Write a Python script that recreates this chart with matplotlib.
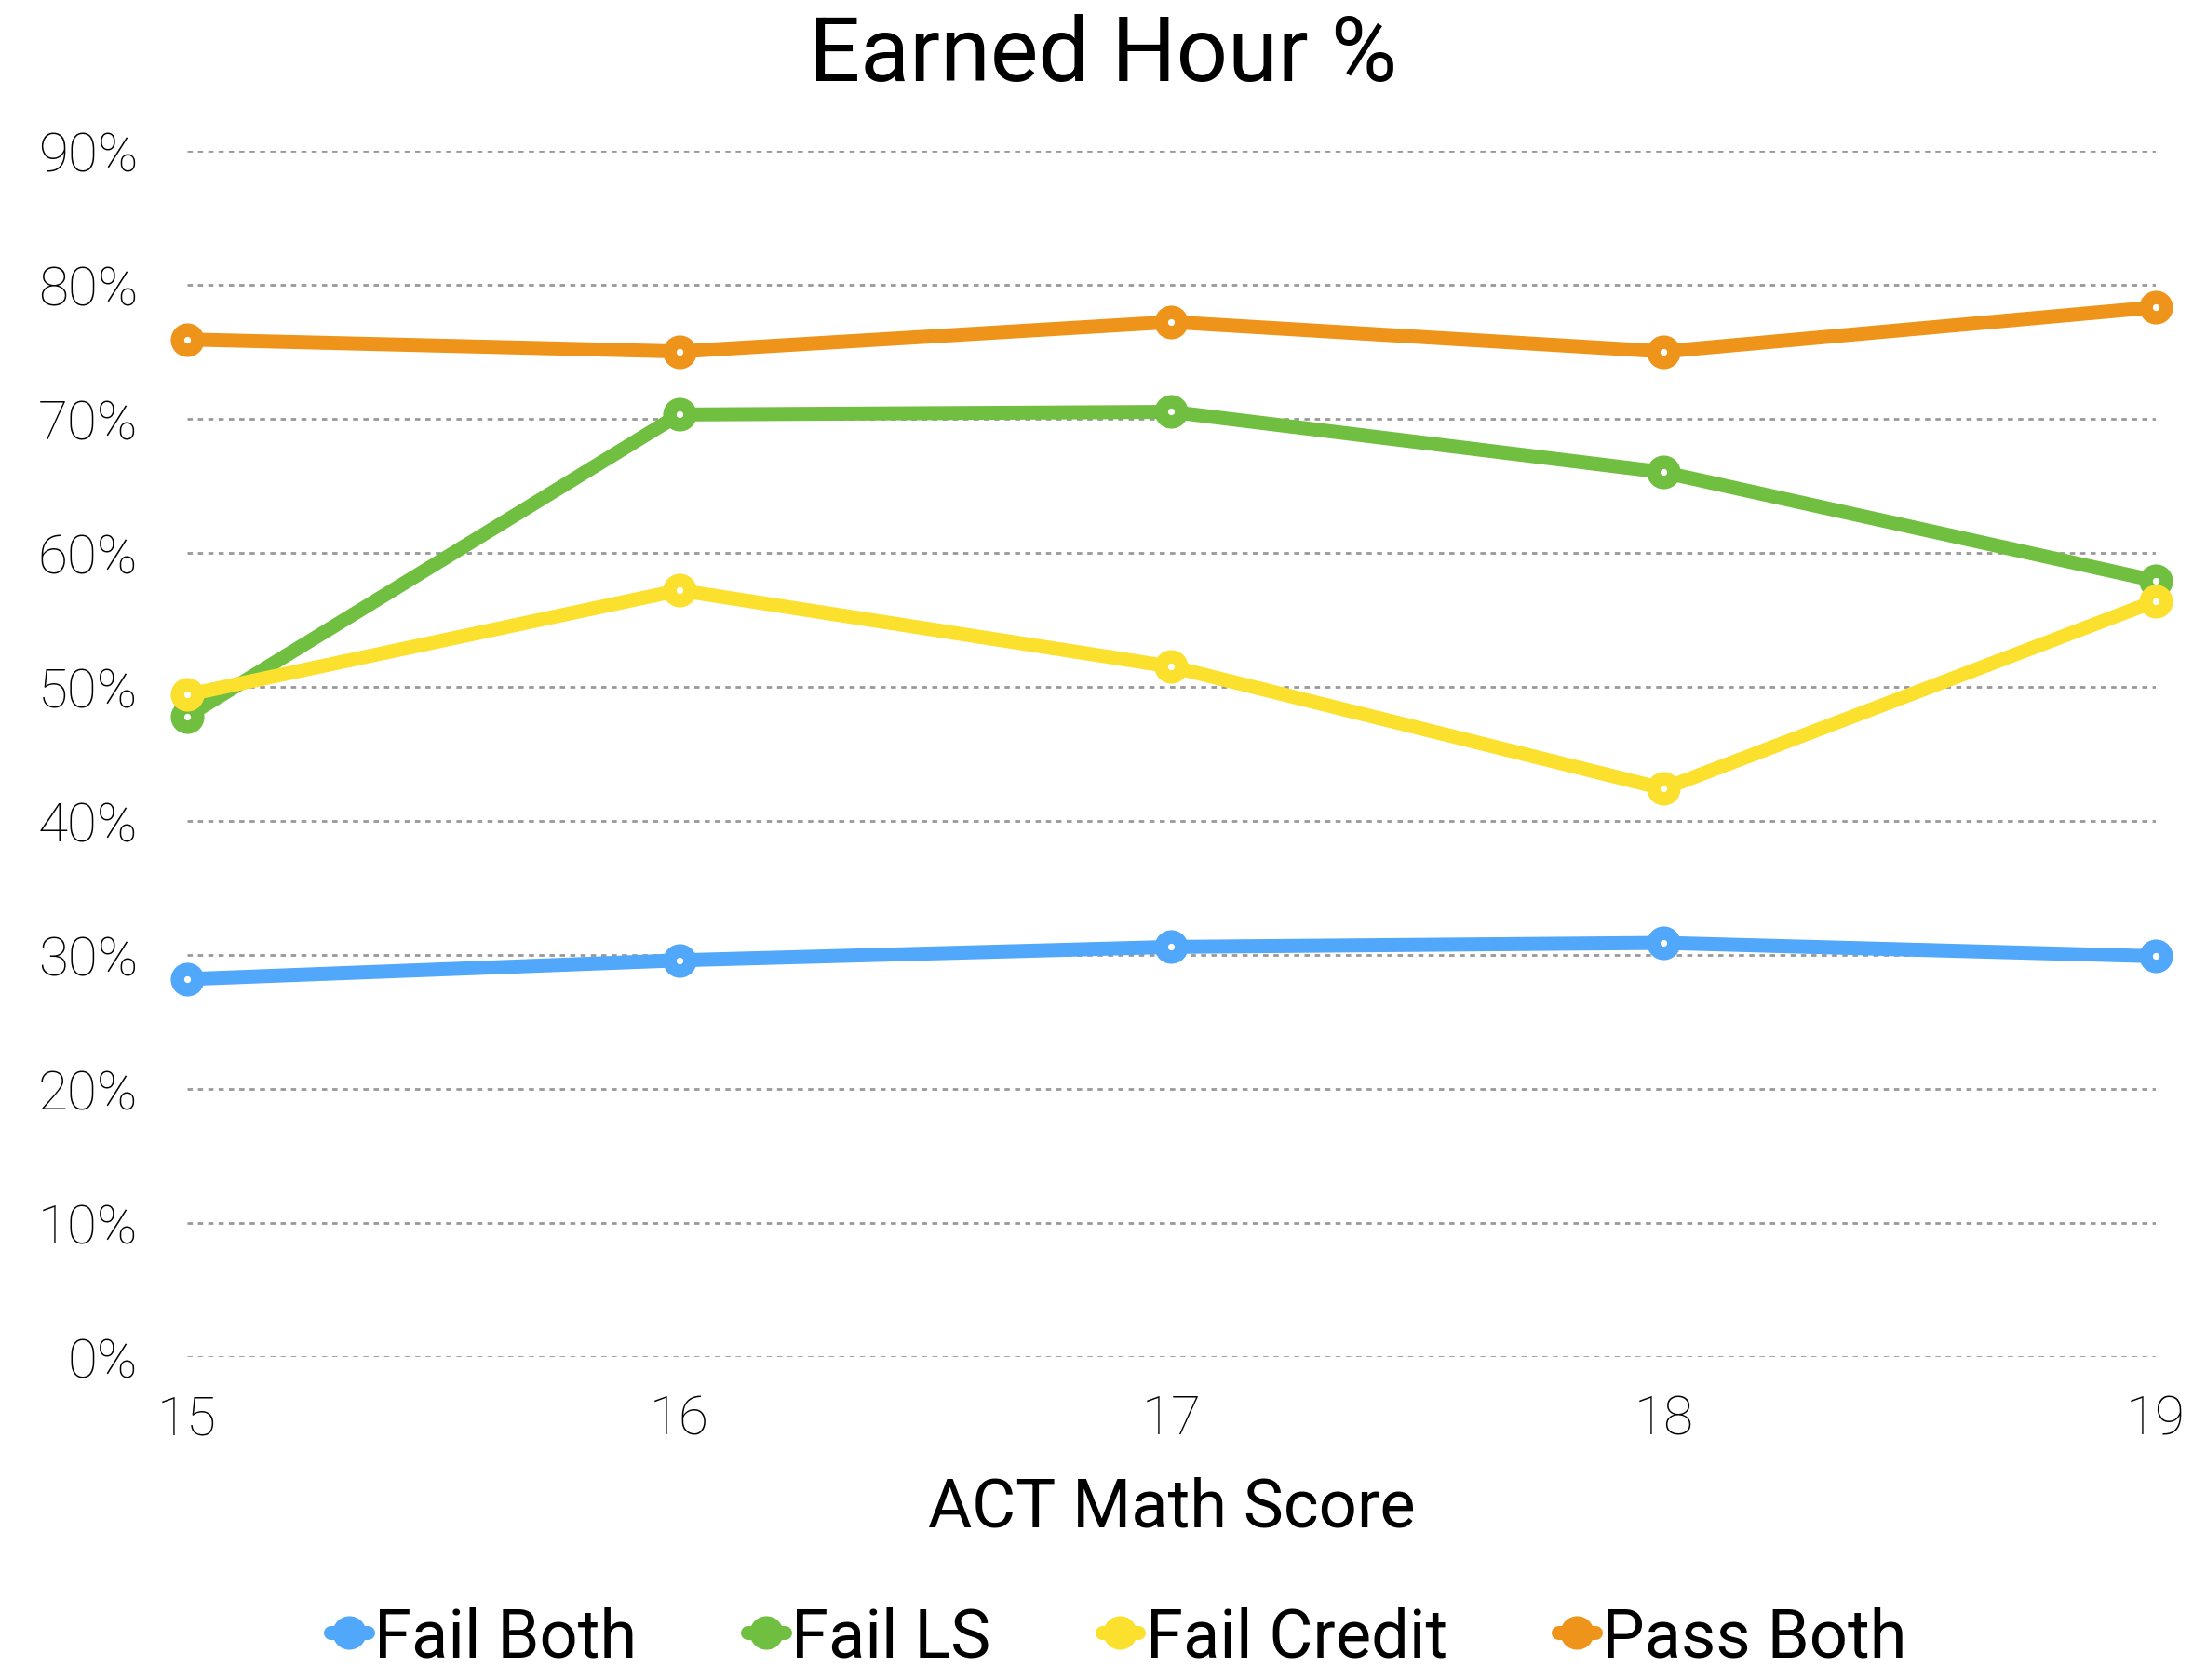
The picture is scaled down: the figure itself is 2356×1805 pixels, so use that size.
import matplotlib.pyplot as plt
from matplotlib.ticker import PercentFormatter

plt.rcParams['font.family'] = ['Roboto', 'DejaVu Sans']
plt.rcParams['font.weight'] = 'light'

scores = [15, 16, 17, 18, 19]
fail_both = [0.282, 0.296, 0.306, 0.309, 0.299]
fail_ls = [0.478, 0.703, 0.705, 0.660, 0.579]
fail_credit = [0.494, 0.572, 0.515, 0.424, 0.564]
pass_both = [0.759, 0.750, 0.772, 0.750, 0.783]

series = [
    ("Fail Both", fail_both, "#51a7f9"),
    ("Fail LS", fail_ls, "#70bf41"),
    ("Fail Credit", fail_credit, "#fbe02e"),
    ("Pass Both", pass_both, "#ef941b"),
]

fig = plt.figure(figsize=(11.78, 9.03), dpi=200)
ax = fig.add_axes([0.0853, 0.192, 0.8977, 0.718])

for name, vals, col in series:
    ax.plot(scores, vals, color=col, lw=5.4, marker='o', ms=12,
            mfc=col, mec=col, label=name, clip_on=False, zorder=3,
            solid_capstyle='round')
    ax.plot(scores, vals, ls='none', marker='o', ms=1.6, mfc='white',
            mec='white', clip_on=False, zorder=4)

ax.set_xlim(15, 19)
ax.set_ylim(0, 0.9)
ax.set_xticks(scores)
ax.set_yticks([i / 10 for i in range(10)])
ax.yaxis.set_major_formatter(PercentFormatter(1.0, decimals=0))
ax.grid(axis='y', color='#999999', ls=(0, (2, 2)), lw=1.0)
ax.set_axisbelow(True)
for s in ax.spines.values():
    s.set_visible(False)
ax.tick_params(length=0, labelsize=21, colors='black')
ax.tick_params(axis='y', pad=19)
ax.tick_params(axis='x', pad=14)

fig.text(0.503, 0.966, "Earned Hour %", fontsize=35, ha='center', va='center',
         fontweight='normal')
ax.set_xlabel("ACT Math Score", fontsize=26, labelpad=12, fontweight='normal')

handles, labels = ax.get_legend_handles_labels()
fig.legend(handles, labels, loc='center', bbox_to_anchor=(0.51, 0.025), ncol=4,
           frameon=False, handlelength=0.55, handletextpad=0.1,
           columnspacing=1.65, markerscale=1.0,
           prop={'size': 26, 'weight': 'normal'})

fig.savefig("out.png", dpi=200)
